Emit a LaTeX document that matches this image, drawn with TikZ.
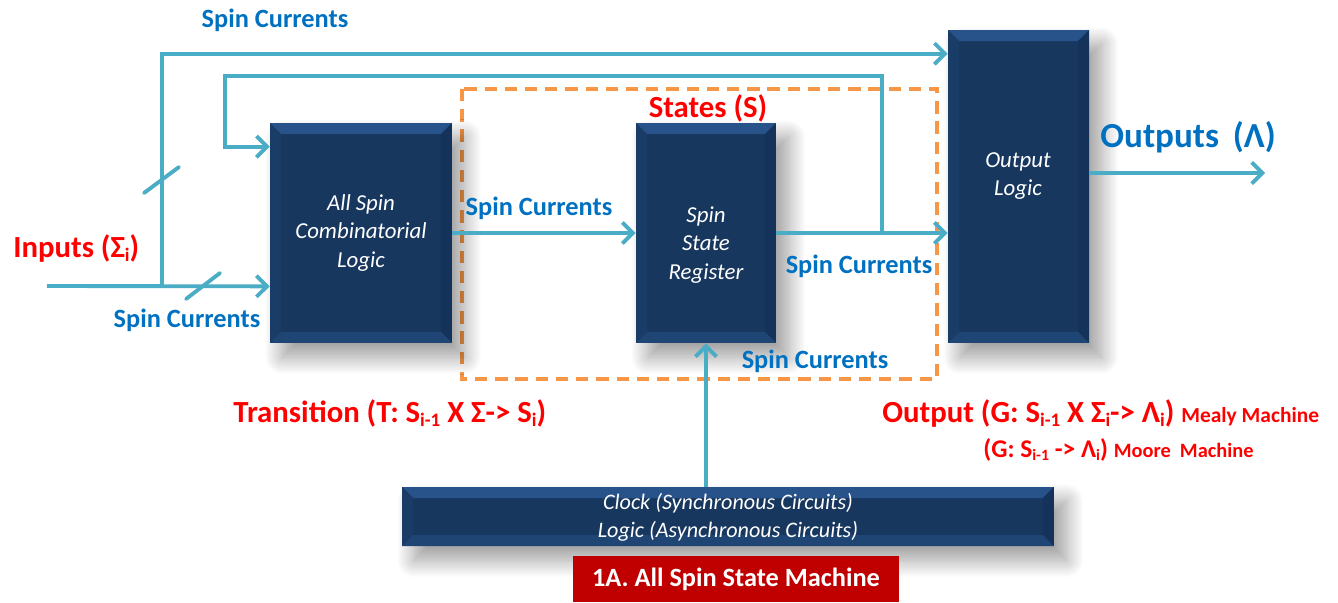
\documentclass[tikz,border=0pt]{standalone}
\usepackage{fontspec}
\setmainfont{Carlito}
\usetikzlibrary{arrows.meta,shadows.blur}
\definecolor{boxblue}{HTML}{17375E}
\definecolor{bevtop}{HTML}{28538A}
\definecolor{bevbot}{HTML}{1E4573}
\definecolor{bevleft}{HTML}{1A3D68}
\definecolor{bevright}{HTML}{15335A}
\definecolor{conncol}{HTML}{4BACC6}
\definecolor{labblue}{HTML}{0070C0}
\definecolor{labred}{HTML}{FF0000}
\definecolor{dashor}{HTML}{F79646}
\definecolor{titlered}{HTML}{C00000}
\newcommand\lsub[1]{\raisebox{-0.3ex}{\scalebox{0.62}{#1}}}
\tikzset{
  bevelbox/.style={fill=boxblue, inner sep=0pt,
    blur shadow={shadow xshift=7pt, shadow yshift=-8pt, shadow blur radius=10pt, shadow blur steps=24, shadow opacity=40},
    path picture={
      \coordinate (pnw) at (path picture bounding box.north west);
      \coordinate (pse) at (path picture bounding box.south east);
      \fill[bevtop] (pnw) -- (pse|-pnw) -- ([shift={(-0.22cm,-0.22cm)}]pse|-pnw) -- ([shift={(0.22cm,-0.22cm)}]pnw) -- cycle;
      \fill[bevleft] (pnw) -- ([shift={(0.22cm,-0.22cm)}]pnw) -- ([shift={(0.22cm,0.22cm)}]pnw|-pse) -- (pnw|-pse) -- cycle;
      \fill[bevright] (pse|-pnw) -- (pse) -- ([shift={(-0.22cm,0.22cm)}]pse) -- ([shift={(-0.22cm,-0.22cm)}]pse|-pnw) -- cycle;
      \fill[bevbot] (pnw|-pse) -- (pse) -- ([shift={(-0.22cm,0.22cm)}]pse) -- ([shift={(0.22cm,0.22cm)}]pnw|-pse) -- cycle;
    }},
  boxtxt/.style={text=white, font=\itshape\fontsize{13}{16}\selectfont, align=center, inner sep=0pt},
  conn/.style={draw=conncol, line width=2.2pt},
  arr/.style={-{Straight Barb[length=6pt,width=12pt]}},
  bl/.style={text=labblue, font=\bfseries\fontsize{15}{18}\selectfont, anchor=base, inner sep=0pt},
  rl/.style={text=labred, font=\bfseries\fontsize{17.5}{21}\selectfont, anchor=base west, inner sep=0pt},
  dashbox/.style={draw=dashor, line width=1.9pt, dash pattern=on 7pt off 4.5pt}
}
\begin{document}
\begin{tikzpicture}[x=0.02cm,y=-0.02cm]
\useasboundingbox (0,0) rectangle (1338,602);
% dashed state region
\draw[dashbox] (462,89) rectangle (937,379);
% blocks
\node[bevelbox, minimum width=3.64cm, minimum height=4.4cm] (A) at (361,233) {};
\node[bevelbox, minimum width=2.8cm, minimum height=4.4cm] (B) at (706,233) {};
\node[bevelbox, minimum width=2.82cm, minimum height=6.26cm] (C) at (1018.5,186.5) {};
\node[bevelbox, minimum width=13.04cm, minimum height=1.18cm] (K) at (728,516.5) {};
\node[fill=titlered, minimum width=6.52cm, minimum height=0.92cm, inner sep=0pt, text=white, font=\bfseries\fontsize{15}{18}\selectfont] (T) at (736,579) {1A. All Spin State Machine};
% block texts
\node[boxtxt] (Atxt) at (361,233) {All Spin\\Combinatorial\\Logic};
\node[boxtxt] (Btxt) at (706,245) {Spin\\State\\Register};
\node[boxtxt] (Ctxt) at (1018,176) {Output\\Logic};
\node[boxtxt, font=\itshape\fontsize{12.6}{16}\selectfont] (Ktxt) at (728,517) {Clock (Synchronous Circuits)\\Logic (Asynchronous Circuits)};
% connectors
\coordinate (in) at (47,286);
\coordinate (j1) at (162,286);
\coordinate (j2) at (882,233);
\coordinate (fb) at (225,76);
\coordinate (out) at (1265,173);
\draw[conn,arr] (in) -- ([yshift=1.14cm]A.south west);
\draw[conn,arr] (j1) |- ([yshift=-0.48cm]C.north west);
\draw[conn,arr] (j2) |- (fb) |- ([yshift=-0.48cm]A.north west);
\draw[conn,arr] (A.east) -- (B.west);
\draw[conn,arr] (B.east) -- (C.west |- B.east);
\draw[conn,arr] ([yshift=0.27cm]C.east) -- (out);
\draw[conn,arr] (K.north -| B.south) -- (B.south);
\draw[conn, line cap=round] (144,193) -- (179,167);
\draw[conn, line cap=round] (186,299) -- (220,273);
% labels
\node[bl] (l1) at (275,27) {Spin Currents};
\node[bl] (l2) at (187,327) {Spin Currents};
\node[bl] (l3) at (539,215) {Spin Currents};
\node[bl] (l4) at (859,273) {Spin Currents};
\node[bl] (l5) at (815,368) {Spin Currents};
\node[bl, font=\bfseries\fontsize{20}{24}\selectfont] (lo) at (1188,147) {Outputs\, (Λ)};
\node[rl] (li) at (13,257) {Inputs (Σ\lsub{i})};
\node[rl, anchor=base] (ls) at (708,117) {States (S)};
\node[rl] (lt) at (233,422) {Transition (T: S\lsub{i-1} X Σ-> S\lsub{i})};
\node[rl] (lg) at (882,422) {Output (G: S\lsub{i-1} X Σ\lsub{i}-> Λ\lsub{i}) {\fontsize{12.2}{15}\selectfont Mealy Machine}};
\node[rl, font=\bfseries\fontsize{14.5}{17}\selectfont] (lm) at (983,457) {(G: S\lsub{i-1} -> Λ\lsub{i}) {\fontsize{11.6}{14}\selectfont Moore\ \ Machine}};
\end{tikzpicture}
\end{document}
